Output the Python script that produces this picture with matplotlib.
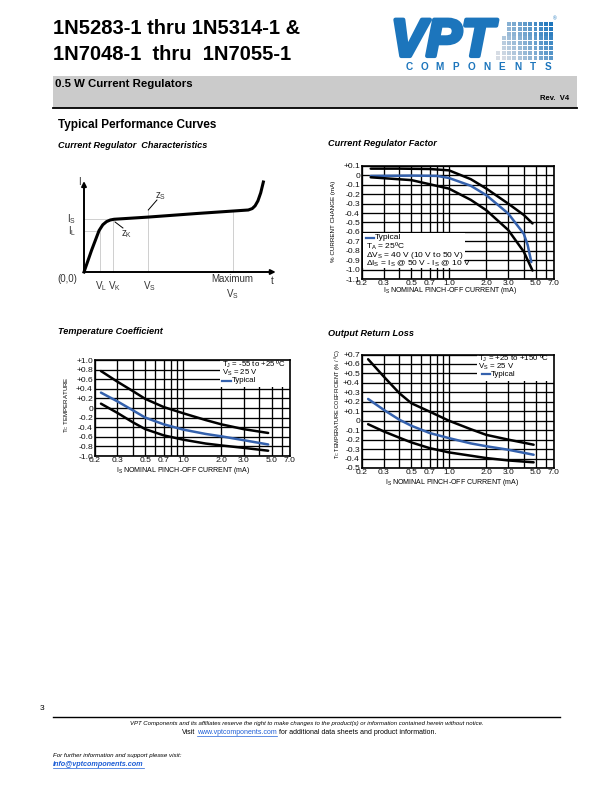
import numpy as np
import matplotlib
matplotlib.use('Agg')
import matplotlib.pyplot as plt
from matplotlib.patches import Rectangle
from matplotlib.lines import Line2D
from matplotlib.ticker import NullLocator
import matplotlib.patheffects as pe

plt.rcParams['font.family'] = ['Liberation Sans', 'DejaVu Sans']
plt.rcParams['mathtext.fontset'] = 'custom'
plt.rcParams['mathtext.rm'] = 'Liberation Sans'
plt.rcParams['mathtext.it'] = 'Liberation Sans:italic'
plt.rcParams['mathtext.bf'] = 'Liberation Sans:bold'
plt.rcParams['axes.unicode_minus'] = False

W, H = 612, 792  # page in pixels (dpi 100)
CURVE_BLUE = '#3461ad'
LOGO_BLUE = '#1c75bc'
LINK_BLUE = '#1f5fd6'

# ---------------- data ----------------
# current regulator characteristic (schematic, arbitrary units)
char_v = [0, 4, 8, 10, 12, 14, 16, 34, 60, 87.4, 89.5, 91, 92.5, 94, 95.4]
char_i = [0, 24, 46, 52.5, 56, 57.8, 58.6, 61, 65, 68.9, 70.5, 73.5, 79, 88, 100]
char_is = 59.0
char_il = 46.0
char_marks_v = [8.5, 15.6, 34.2, 79.1]
char_marks_lbl = ['V$_\\mathregular{L}$', 'V$_\\mathregular{K}$', 'V$_\\mathregular{S}$',
                  'Maximum\nV$_\\mathregular{S}$']

# shared log x grid of the performance curves
x_grid = [0.2, 0.3, 0.4, 0.5, 0.6, 0.7, 0.8, 0.9, 1.0, 2.0, 3.0, 4.0, 5.0, 6.0, 7.0]
x_grid_labels = ['0.2', '0.3', '', '0.5', '', '0.7', '', '', '1.0', '2.0', '3.0', '', '5.0', '', '7.0']

# current regulator factor
crf_yticks = [0.1, 0, -0.1, -0.2, -0.3, -0.4, -0.5, -0.6, -0.7, -0.8, -0.9, -1.0, -1.1]
crf_ylabels = ['+0.1', '0', '-0.1', '-0.2', '-0.3', '-0.4', '-0.5', '-0.6', '-0.7',
               '-0.8', '-0.9', '-1.0', '-1.1']
crf_x_up = [0.235, 0.4, 0.7, 1.0, 1.5, 2.0, 3.0, 4.0, 4.7]
crf_up = [0.072, 0.072, 0.068, 0.054, -0.04, -0.14, -0.30, -0.42, -0.51]
crf_x_typ = [0.235, 0.5, 0.8, 1.0, 1.5, 2.0, 3.0, 4.0, 4.3, 4.6]
crf_typ = [-0.006, -0.002, -0.005, -0.027, -0.11, -0.21, -0.405, -0.62, -0.74, -0.92]
crf_x_lo = [0.235, 0.5, 1.0, 1.5, 2.0, 3.0, 4.0, 4.7]
crf_lo = [-0.02, -0.05, -0.14, -0.26, -0.37, -0.58, -0.81, -1.01]

# temperature coefficient
tc_yticks = [1.0, 0.8, 0.6, 0.4, 0.2, 0, -0.2, -0.4, -0.6, -0.8, -1.0]
tc_ylabels = ['+1.0', '+0.8', '+0.6', '+0.4', '+0.2', '0', '-0.2', '-0.4', '-0.6', '-0.8', '-1.0']
tc_x = [0.223, 0.3, 0.4, 0.5, 0.7, 1.0, 1.5, 2.0, 3.0, 4.7]
tc_up = [0.77, 0.55, 0.35, 0.19, 0.02, -0.11, -0.25, -0.34, -0.44, -0.52]
tc_typ = [0.32, 0.14, -0.05, -0.20, -0.34, -0.45, -0.54, -0.59, -0.67, -0.76]
tc_lo = [0.09, -0.10, -0.30, -0.44, -0.57, -0.66, -0.74, -0.78, -0.83, -0.89]

# output return loss
orl_yticks = [0.7, 0.6, 0.5, 0.4, 0.3, 0.2, 0.1, 0, -0.1, -0.2, -0.3, -0.4, -0.5]
orl_ylabels = ['+0.7', '+0.6', '+0.5', '+0.4', '+0.3', '+0.2', '+0.1', '0', '-0.1', '-0.2',
               '-0.3', '-0.4', '-0.5']
orl_x = [0.224, 0.3, 0.4, 0.5, 0.7, 1.0, 1.5, 2.0, 3.0, 4.8]
orl_up = [0.65, 0.465, 0.29, 0.184, 0.096, 0.0, -0.09, -0.15, -0.20, -0.254]
orl_typ = [0.23, 0.114, 0.01, -0.054, -0.13, -0.184, -0.24, -0.27, -0.307, -0.36]
orl_lo = [-0.037, -0.114, -0.18, -0.23, -0.29, -0.335, -0.37, -0.395, -0.42, -0.44]

xlabel = 'I$_\\mathregular{S}$ NOMINAL PINCH-OFF CURRENT (mA)'

fig = plt.figure(figsize=(W / 100, H / 100), dpi=100)


def ftext(x, y, s, **kw):
    return fig.text(x / W, 1 - y / H, s, **kw)


def fline(x0, x1, y, lw=1.0, color='black'):
    fig.add_artist(Line2D([x0 / W, x1 / W], [1 - y / H, 1 - y / H], lw=lw, color=color,
                          transform=fig.transFigure))


def page_axes(l, t, r, b):
    return fig.add_axes([l / W, 1 - b / H, (r - l) / W, (b - t) / H])


# ---------------- header ----------------
ftext(53, 29, '1N5283-1 thru 1N5314-1 &', fontsize=14.5, fontweight='bold', va='center')
ftext(53, 54, '1N7048-1  thru  1N7055-1', fontsize=14.5, fontweight='bold', va='center')

# logo
ftext(391, 56, 'VPT', fontsize=38, fontweight='bold', fontstyle='italic', color=LOGO_BLUE,
      va='baseline', ha='left',
      path_effects=[pe.Stroke(linewidth=3, foreground=LOGO_BLUE), pe.Normal()])
blue = np.array([0x1c, 0x75, 0xbc]) / 255
grey = np.array([0xd6, 0xdc, 0xe4]) / 255
for r in range(8):
    for c in range(-(r // 3), 9):
        t = min(1, max(0, (8 - c) / 14 + r / 20))
        col = blue * (1 - t) + grey * t
        x = 507 + c * 5.3
        y = 22 + r * 4.8
        fig.add_artist(Rectangle((x / W, 1 - (y + 3.9) / H), 3.9 / W, 3.9 / H,
                                 transform=fig.transFigure, color=col, lw=0))
ftext(553, 19, '®', fontsize=3.5, color=LOGO_BLUE, va='center')
for i, ch in enumerate('COMPONENTS'):
    ftext(409 + i * 15.5, 66.5, ch, fontsize=7.2, fontweight='bold', color=LOGO_BLUE,
          ha='center', va='center')

fig.add_artist(Rectangle((53 / W, 1 - 108 / H), 524 / W, 32 / H, transform=fig.transFigure,
                         color='#cbcbcb', lw=0))
fline(53, 577, 108, lw=1.3)
ftext(55, 84, '0.5 W Current Regulators', fontsize=8.2, fontweight='bold', va='center')
ftext(569, 99, 'Rev.  V4', fontsize=5.5, fontweight='bold', ha='right', va='center')

ftext(58, 125, 'Typical Performance Curves', fontsize=8.5, fontweight='bold', va='center')
sub = dict(fontsize=6.6, fontweight='bold', fontstyle='italic', va='center')
ftext(58, 145, 'Current Regulator  Characteristics', **sub)
ftext(328, 144, 'Current Regulator Factor', **sub)
ftext(58, 332, 'Temperature Coefficient', **sub)
ftext(328, 334, 'Output Return Loss', **sub)

# ---------------- characteristic schematic ----------------
ax1 = page_axes(46.4, 173, 290.8, 299)
ax1.set_xlim(-20, 110)
ax1.set_ylim(-30, 110)
ax1.axis('off')
ref = dict(color='#c8c8c8', lw=0.6, zorder=1)
ax1.plot([0, 17], [char_is, char_is], **ref)
ax1.plot([0, char_marks_v[0]], [char_il, char_il], **ref)
for v in char_marks_v:
    top = np.interp(v, char_v, char_i)
    if v == char_marks_v[2]:
        top = 68.9
    ax1.plot([v, v], [0, top], **ref)
ax1.plot(char_v, char_i, color='black', lw=2.2, solid_joinstyle='round', zorder=3)
arrow = dict(arrowstyle='-|>', lw=1.4, color='black', mutation_scale=7, shrinkA=0, shrinkB=0)
ax1.annotate('', xy=(102, 0), xytext=(0, 0), arrowprops=arrow)
ax1.annotate('', xy=(0, 101), xytext=(0, 0), arrowprops=arrow)
ax1.plot([34.2, 38.8], [68.9, 80], color='black', lw=0.7)
ax1.plot([16.5, 20.7], [55.6, 48.9], color='black', lw=0.7)
lab = dict(fontsize=7, color='#333333', ha='center', va='center')
ax1.text(40.6, 84, 'z$_\\mathregular{S}$', **lab)
ax1.text(22.6, 42, 'z$_\\mathregular{K}$', **lab)
ax1.text(-2.5, 100, 'I', **lab)
ax1.text(-6.5, char_is, 'I$_\\mathregular{S}$', **lab)
ax1.text(-6.5, char_il - 1, 'I$_\\mathregular{L}$', **lab)
ax1.text(-9, -7.5, '(0,0)', **lab)
ax1.text(100, -10, 't', **lab)
for v, s in zip(char_marks_v, char_marks_lbl):
    if '\n' in s:
        ax1.text(v, -17, s, fontsize=7, color='#333333', ha='center', va='center',
                 linespacing=1.3)
    else:
        ax1.text(v + 0.5, -15.5, s, **lab)


# ---------------- performance charts ----------------
def perf_axes(rect, yticks, ylabels):
    ax = page_axes(*rect)
    ax.set_xscale('log')
    ax.set_xlim(0.2, 7.0)
    ax.set_ylim(yticks[-1], yticks[0])
    ax.set_xticks(x_grid)
    ax.set_xticklabels(x_grid_labels)
    ax.xaxis.set_minor_locator(NullLocator())
    ax.set_yticks(yticks)
    ax.set_yticklabels(ylabels)
    ax.grid(True, color='black', lw=0.95)
    ax.set_axisbelow(True)
    ax.tick_params(length=0, labelsize=6.1, colors='#111111')
    ax.tick_params(axis='x', pad=0.8)
    ax.tick_params(axis='y', pad=1.5)
    for s in ax.spines.values():
        s.set_linewidth(1.2)
    return ax


def note_box(ax, box, lines, typ, size=6.0):
    x0, y0, x1, y1 = box
    ax.add_patch(Rectangle((x0, y0), x1 - x0, y1 - y0, transform=ax.transAxes,
                           facecolor='white', edgecolor='none', zorder=2))
    for x, y, s in lines:
        ax.text(x, y, s, transform=ax.transAxes, fontsize=size, va='center', ha='left', zorder=4)
    xa, xb, y = typ
    ax.plot([xa, xb], [y, y], transform=ax.transAxes, color=CURVE_BLUE, lw=1.6, zorder=4)


def curves(ax, xs, ys):
    for x, y, c in zip(xs, ys, ['black', CURVE_BLUE, 'black']):
        ax.plot(x, y, color=c, lw=1.8, solid_capstyle='round', solid_joinstyle='round', zorder=3)


# current regulator factor
ax2 = perf_axes((362, 166, 554, 279), crf_yticks, crf_ylabels)
curves(ax2, [crf_x_up, crf_x_typ, crf_x_lo], [crf_up, crf_typ, crf_lo])
note_box(ax2, (0.005, 0.097, 0.536, 0.407),
         [(0.068, 0.363, 'Typical'),
          (0.02, 0.288, 'T$_\\mathregular{A}$ = 25ºC'),
          (0.02, 0.212, 'ΔV$_\\mathregular{S}$ = 40 V (10 V to 50 V)'),
          (0.02, 0.137, 'ΔI$_\\mathregular{S}$ = I$_\\mathregular{S}$ @ 50 V - I$_\\mathregular{S}$ @ 10 V')],
         (0.02, 0.065, 0.363))
ax2.text(-0.15, 0.51, '% CURRENT CHANGE (mA)', transform=ax2.transAxes, rotation=90,
         fontsize=4.5, ha='center', va='center')
ax2.text(0.46, -0.105, xlabel, transform=ax2.transAxes, fontsize=5, ha='center', va='center')

# temperature coefficient
ax3 = perf_axes((95, 360, 290, 456), tc_yticks, tc_ylabels)
curves(ax3, [tc_x, tc_x, tc_x], [tc_up, tc_typ, tc_lo])
note_box(ax3, (0.641, 0.719, 1.0, 1.0),
         [(0.651, 0.95, 'T$_\\mathregular{J}$ = -55 to +25 ºC'),
          (0.651, 0.87, 'V$_\\mathregular{S}$ = 25 V'),
          (0.70, 0.786, 'Typical')],
         (0.653, 0.696, 0.786), size=5.6)
ax3.text(-0.145, 0.53, 'T$_\\mathregular{C}$ TEMPERATURE', transform=ax3.transAxes, rotation=90,
         fontsize=4.4, ha='center', va='center')
ax3.text(0.45, -0.155, xlabel, transform=ax3.transAxes, fontsize=5, ha='center', va='center')

# output return loss
ax4 = perf_axes((362, 354.5, 554, 468), orl_yticks, orl_ylabels)
curves(ax4, [orl_x, orl_x, orl_x], [orl_up, orl_typ, orl_lo])
note_box(ax4, (0.599, 0.767, 1.0, 1.0),
         [(0.604, 0.962, 'T$_\\mathregular{J}$ = +25 to +150 ºC'),
          (0.604, 0.892, 'V$_\\mathregular{S}$ = 25 V'),
          (0.672, 0.824, 'Typical')],
         (0.623, 0.667, 0.824), size=5.7)
ax4.text(-0.13, 0.56, 'T$_\\mathregular{C}$ TEMPERATURE COEFFICIENT (% / ºC)', transform=ax4.transAxes,
         rotation=90, fontsize=4.0, ha='center', va='center')
ax4.text(0.47, -0.128, xlabel, transform=ax4.transAxes, fontsize=5, ha='center', va='center')

# ---------------- footer ----------------
ftext(40, 709, '3', fontsize=6, va='center')
fline(53, 560, 717, lw=1.0)
ftext(307, 724, 'VPT Components and its affiliates reserve the right to make changes to the '
      'product(s) or information contained herein without notice.',
      fontsize=4.3, fontstyle='italic', ha='center', va='center')
visit_parts = [ftext(0, 733, 'Visit', fontsize=5.0, va='center'),
               ftext(0, 733, 'www.vptcomponents.com', fontsize=5.0, va='center', color=LINK_BLUE),
               ftext(0, 733, 'for additional data sheets and product information.', fontsize=5.0,
                     va='center')]
ftext(53, 756, 'For further information and support please visit:', fontsize=4.4,
      fontstyle='italic', va='center')
mail = ftext(53, 765, 'info@vptcomponents.com', fontsize=5.2, fontstyle='italic',
             fontweight='bold', va='center', color=LINK_BLUE)

fig.canvas.draw()
widths = [p.get_window_extent().width for p in visit_parts]
gap = 2.0
x = 309 - (sum(widths) + 2 * gap) / 2
for p, w in zip(visit_parts, widths):
    p.set_x(x / W)
    x += w + gap
fig.canvas.draw()
for t in (visit_parts[1], mail):
    bb = t.get_window_extent()
    fig.add_artist(Line2D([bb.x0 / W, bb.x1 / W], [(bb.y0 + 0.5) / H, (bb.y0 + 0.5) / H],
                          lw=0.5, color=LINK_BLUE, transform=fig.transFigure))

fig.savefig('out.png', dpi=100)
